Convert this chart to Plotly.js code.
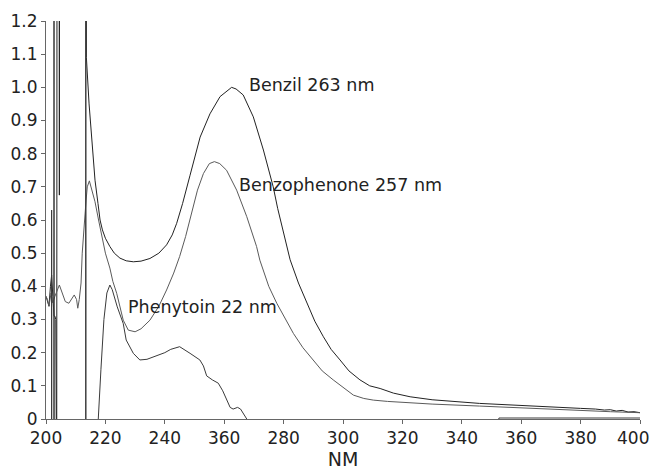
<!DOCTYPE html>
<html>
<head>
<meta charset="utf-8">
<script src="https://cdn.plot.ly/plotly-3.0.1.min.js"></script>
<style>html,body{margin:0;padding:0;background:#fff;}#chart{width:653px;height:470px;}</style>
</head>
<body>
<div id="chart"></div>
<script>
// Wavelength (nm) and absorbance
const benzilX = [200,200.5,201,201.5,201.9,202.3,202.7,203.0,203.3,203.6,203.8,204.45,204.5,204.55,213.5,213.6,214.5,215.5,216.5,217.5,218.2,219,220,221.5,223,224.9,227,229.4,232,235,238,240.6,242.5,244,246,248.5,251.9,255.2,258.6,262.5,264,266.4,269.8,273.2,276.5,278,280,282.2,285,287.8,290.5,293.4,296,299,302,305.7,309,312.5,317,322.6,330,346,360,370,380,385,388,390,392,394,396,398,400];
const benzilY = [0.37,0.355,0.34,0.40,0.434,0.37,0.31,0.31,0.30,-0.3,3,3,0.675,3,3,1.09,0.95,0.82,0.72,0.65,0.60,0.57,0.545,0.52,0.50,0.485,0.477,0.474,0.476,0.484,0.50,0.525,0.555,0.59,0.65,0.735,0.85,0.92,0.972,1.0,0.995,0.977,0.911,0.811,0.70,0.635,0.56,0.48,0.41,0.349,0.295,0.248,0.21,0.178,0.145,0.118,0.10,0.092,0.078,0.067,0.058,0.047,0.040,0.036,0.032,0.030,0.027,0.028,0.024,0.026,0.021,0.022,0.019];

const benzophenoneX = [200,200.5,201,201.7,202.3,203,204.5,205.5,206.5,207.7,208.5,209.5,210.3,210.7,211.2,211.8,212.2,212.6,213,213.5,213.9,214.6,215.5,216.5,217.7,219,220,221.5,222.5,223.8,225,226,227.7,230,232,235,238,240.6,243,245,247,249,251,253,255,256.7,258.5,260.8,262.5,264.2,267.6,270.9,272,275,277.7,280,283.3,286.5,290,293,296.7,300,303.5,307,310.2,315,320,330,346,360,380,390,400];
const benzophenoneY = [0.37,0.36,0.34,0.38,0.35,0.37,0.404,0.38,0.354,0.349,0.36,0.374,0.36,0.334,0.36,0.41,0.50,0.54,0.60,0.66,0.70,0.718,0.69,0.655,0.60,0.54,0.50,0.455,0.415,0.379,0.33,0.298,0.268,0.263,0.272,0.298,0.34,0.389,0.44,0.49,0.55,0.62,0.69,0.74,0.77,0.776,0.77,0.75,0.72,0.69,0.61,0.52,0.479,0.40,0.349,0.31,0.258,0.215,0.178,0.145,0.118,0.095,0.072,0.062,0.057,0.053,0.050,0.045,0.039,0.033,0.025,0.022,0.019];

const phenytoinX = [200,201.85,201.9,201.95,202.65,202.7,202.75,213.35,213.4,213.45,217.4,217.6,218.5,219.5,220.5,221.5,222.3,223.2,224,226,227,229.4,231.6,234,237,240,242,245,248.5,251.8,253,254.1,256,258,259.5,260.8,262,263,264.5,265.5,266.5,267.6,268.5,352,352.5,400];
const phenytoinY = [-0.2,-0.2,0.63,-0.2,-0.2,3,-0.2,-0.2,3,-0.2,-0.2,0.0,0.15,0.30,0.38,0.404,0.39,0.36,0.338,0.288,0.238,0.198,0.178,0.18,0.19,0.20,0.21,0.218,0.198,0.178,0.16,0.13,0.118,0.108,0.085,0.057,0.035,0.03,0.035,0.03,0.015,0.0,-0.03,-0.03,0.003,0.003];

// Tick labels as printed in the reference (the 260 tick is printed "360");
// the last label is drawn right-aligned at the plot edge so it stays inside the page.
const xTickVals = [200,220,240,260,280,300,320,340,360,380,400];
const xTickText = ["200","220","240","360","280","300","320","340","360","380",""];
const xLastTickLabel = {value: 400, text: "400"};
const yTickVals = [0,0.1,0.2,0.3,0.4,0.5,0.6,0.7,0.8,0.9,1.0,1.1,1.2];
const yTickText = ["0","0.1","0.2","0.3","0.4","0.5","0.6","0.7","0.8","0.9","1.0","1.1","1.2"];

const labels = [
  {text: "Benzil 263 nm", x: 267.6, y: 1.007},
  {text: "Benzophenone 257 nm", x: 264.4, y: 0.705},
  {text: "Phenytoin 22 nm", x: 226.9, y: 0.339}
];

const FONT = "DejaVu Sans, Liberation Sans, Arial, sans-serif";

const traces = [
  {x: benzilX, y: benzilY, name: "Benzil", mode: "lines", line: {color: "#222", width: 1}},
  {x: benzophenoneX, y: benzophenoneY, name: "Benzophenone", mode: "lines", line: {color: "#5a5a5a", width: 1}},
  {x: phenytoinX, y: phenytoinY, name: "Phenytoin", mode: "lines", line: {color: "#3a3a3a", width: 1}}
];

const annotations = labels.map(l => ({
  text: l.text, x: l.x, y: l.y, xref: "x", yref: "y",
  xanchor: "left", yanchor: "middle", showarrow: false,
  font: {family: FONT, size: 17.5, color: "#222"}
}));
annotations.push({
  text: xLastTickLabel.text, x: xLastTickLabel.value, y: 0, xref: "x", yref: "paper",
  xanchor: "right", yanchor: "middle", xshift: 11, yshift: -19, showarrow: false,
  font: {family: FONT, size: 17, color: "#222"}
});

const layout = {
  width: 653, height: 470,
  margin: {l: 46, r: 13, t: 21, b: 51},
  paper_bgcolor: "#fff", plot_bgcolor: "#fff",
  showlegend: false,
  font: {family: FONT, size: 17, color: "#222"},
  xaxis: {
    range: [200, 400], tickvals: xTickVals, ticktext: xTickText,
    showgrid: false, zeroline: false, showline: true, linecolor: "#666", linewidth: 1,
    ticks: "outside", ticklen: 4, tickcolor: "#666",
    tickfont: {family: FONT, size: 17, color: "#222"},
    title: {text: "NM", font: {family: FONT, size: 19, color: "#222"}, standoff: 4}
  },
  yaxis: {
    range: [0, 1.2], tickvals: yTickVals, ticktext: yTickText,
    showgrid: false, zeroline: false, showline: true, linecolor: "#666", linewidth: 1,
    ticks: "outside", ticklen: 4, tickcolor: "#666",
    tickfont: {family: FONT, size: 17, color: "#222"}
  },
  annotations: annotations
};

Plotly.newPlot("chart", traces, layout, {displayModeBar: false, staticPlot: true});
</script>
</body>
</html>
